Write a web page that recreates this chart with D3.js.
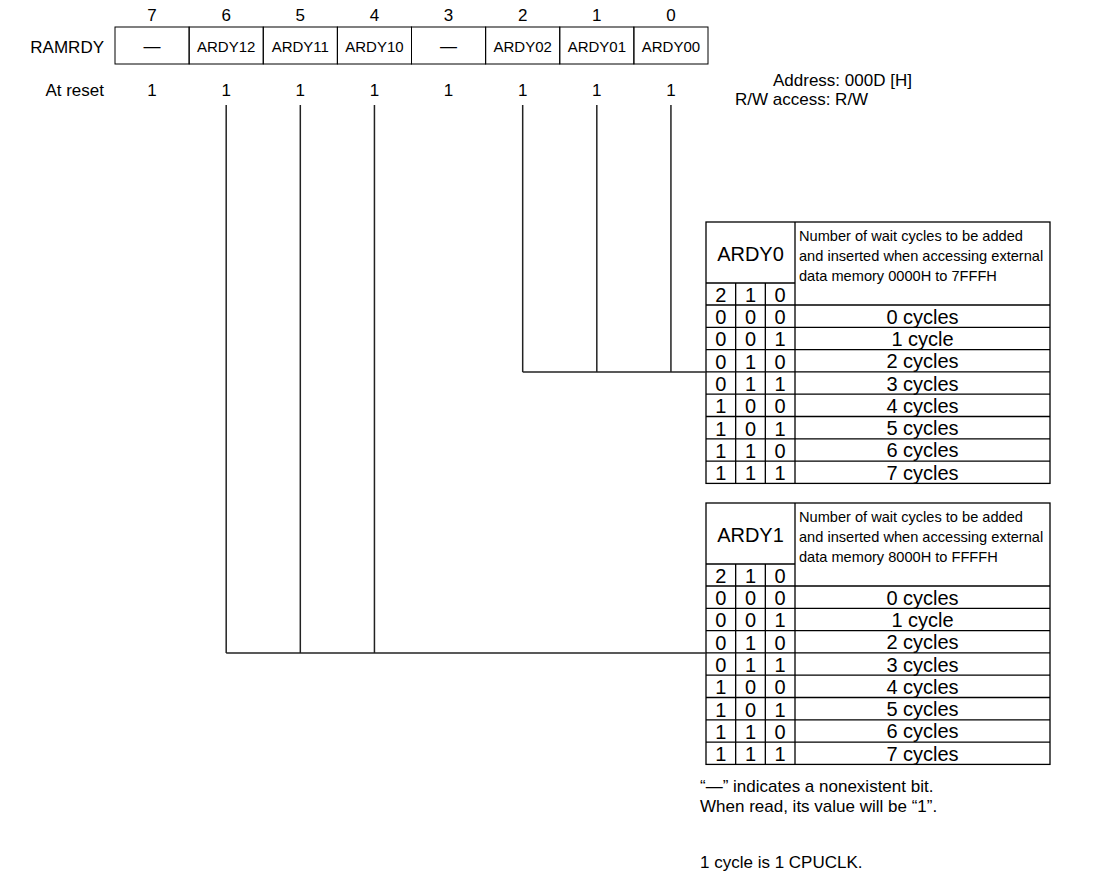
<!DOCTYPE html>
<html><head><meta charset="utf-8">
<script src="https://cdn.jsdelivr.net/npm/d3@7"></script>
<style>
body{margin:0;background:#fff}
text{font-family:Arial,"Liberation Sans",sans-serif;fill:#000}
</style>
</head><body>
<svg id="c" width="1095" height="877"></svg>
<script>
// ---- data ----
const bitNumbers = [7, 6, 5, 4, 3, 2, 1, 0];
const bitNames = ["—", "ARDY12", "ARDY11", "ARDY10", "—", "ARDY02", "ARDY01", "ARDY00"];
const resetValues = [1, 1, 1, 1, 1, 1, 1, 1];
const registerName = "RAMRDY";
const resetLabel = "At reset";
const addressLines = ["Address: 000D [H]", "R/W access: R/W"];
const tableTitles = ["ARDY0", "ARDY1"];
const tableDescriptions = [
  ["Number of wait cycles to be added", "and inserted when accessing external", "data memory 0000H to 7FFFH"],
  ["Number of wait cycles to be added", "and inserted when accessing external", "data memory 8000H to FFFFH"]
];
const tableSourceBits = [[2, 1, 0], [6, 5, 4]];
const codeBitLabels = ["2", "1", "0"];
const bitCodes = ["000", "001", "010", "011", "100", "101", "110", "111"];
const cycleLabels = ["0 cycles", "1 cycle", "2 cycles", "3 cycles", "4 cycles", "5 cycles", "6 cycles", "7 cycles"];
const connectRowIndex = 3; // connector enters between rows "2 cycles" and "3 cycles"
const notes = ["\u201C\u2014\u201D indicates a nonexistent bit.", "When read, its value will be \u201C1\u201D.", "1 cycle is 1 CPUCLK."];

// ---- layout ----
const svg = d3.select("#c");
const reg = {x0: 115, x1: 708, y0: 27, y1: 64};
const xBit = d3.scaleBand().domain(bitNumbers).range([reg.x0, reg.x1]);
const cx = b => xBit(b) + xBit.bandwidth() / 2;

// bit numbers
svg.selectAll("text.bitnum").data(bitNumbers).join("text").attr("class", "bitnum")
  .attr("x", d => cx(d)).attr("y", 15).attr("text-anchor", "middle").attr("dominant-baseline", "central")
  .attr("font-size", 17).text(d => d);

// register box cells
svg.selectAll("rect.cell").data(bitNumbers).join("rect").attr("class", "cell")
  .attr("x", d => xBit(d)).attr("y", reg.y0).attr("width", xBit.bandwidth()).attr("height", reg.y1 - reg.y0)
  .attr("fill", "none").attr("stroke", "#000").attr("stroke-width", 1);
svg.selectAll("text.name").data(bitNumbers).join("text").attr("class", "name")
  .attr("x", d => cx(d)).attr("y", (reg.y0 + reg.y1) / 2 + 1).attr("text-anchor", "middle").attr("dominant-baseline", "central")
  .attr("font-size", (d, i) => bitNames[i] === "—" ? 17 : 15).text((d, i) => bitNames[i]);

svg.append("text").attr("x", 104).attr("y", (reg.y0 + reg.y1) / 2 + 2).attr("text-anchor", "end")
  .attr("dominant-baseline", "central").attr("font-size", 17).text(registerName);
svg.append("text").attr("x", 104).attr("y", 90).attr("text-anchor", "end")
  .attr("dominant-baseline", "central").attr("font-size", 17).text(resetLabel);
svg.selectAll("text.reset").data(bitNumbers).join("text").attr("class", "reset")
  .attr("x", d => cx(d)).attr("y", 90).attr("text-anchor", "middle").attr("dominant-baseline", "central")
  .attr("font-size", 17).text((d, i) => resetValues[i]);

svg.append("text").attr("x", 773).attr("y", 80).attr("dominant-baseline", "central").attr("font-size", 17).text(addressLines[0]);
svg.append("text").attr("x", 735).attr("y", 99).attr("dominant-baseline", "central").attr("font-size", 17).text(addressLines[1]);

// ---- tables ----
const tX = 706, tR = 1050;
const xCol = d3.scaleBand().domain(codeBitLabels).range([tX, tX + 89]);
const descX0 = tX + 89;
const tableTops = [222, 503];
const headerH = 61, bitRowH = 22, rowH = 22.3;

tableTops.forEach((top, t) => {
  const g = svg.append("g");
  const rowsTop = top + headerH + bitRowH;
  const yRow = d3.scaleBand().domain(d3.range(cycleLabels.length)).range([rowsTop, rowsTop + rowH * cycleLabels.length]);
  const bottom = rowsTop + rowH * cycleLabels.length;
  const line = (x1, y1, x2, y2) => g.append("line").attr("x1", x1).attr("y1", y1).attr("x2", x2).attr("y2", y2)
      .attr("stroke", "#000").attr("stroke-width", 1.3);
  g.append("rect").attr("x", tX).attr("y", top).attr("width", tR - tX).attr("height", bottom - top)
    .attr("fill", "none").attr("stroke", "#000").attr("stroke-width", 1.3);
  line(descX0, top, descX0, bottom);
  line(tX, top + headerH, descX0, top + headerH);
  codeBitLabels.slice(1).forEach(c => line(xCol(c), top + headerH, xCol(c), bottom));
  d3.range(cycleLabels.length).forEach(i => line(tX, yRow(i), tR, yRow(i)));

  g.append("text").attr("x", tX + 44.5).attr("y", top + headerH / 2 + 1).attr("text-anchor", "middle")
    .attr("dominant-baseline", "central").attr("font-size", 20).text(tableTitles[t]);
  tableDescriptions[t].forEach((s, k) => {
    g.append("text").attr("x", descX0 + 4).attr("y", top + 14 + k * 20).attr("dominant-baseline", "central")
      .attr("font-size", 14.6).text(s);
  });
  codeBitLabels.forEach(c => g.append("text").attr("x", xCol(c) + xCol.bandwidth() / 2).attr("y", top + headerH + bitRowH / 2 + 1)
    .attr("text-anchor", "middle").attr("dominant-baseline", "central").attr("font-size", 20).text(c));
  bitCodes.forEach((code, i) => {
    code.split("").forEach((ch, j) => g.append("text").attr("x", xCol(codeBitLabels[j]) + xCol.bandwidth() / 2)
      .attr("y", yRow(i) + rowH / 2 + 1).attr("text-anchor", "middle").attr("dominant-baseline", "central")
      .attr("font-size", 20).text(ch));
    g.append("text").attr("x", (descX0 + tR) / 2).attr("y", yRow(i) + rowH / 2 + 0.5).attr("text-anchor", "middle")
      .attr("dominant-baseline", "central").attr("font-size", 20).text(cycleLabels[i]);
  });

  const yc = yRow(connectRowIndex);
  const bits = tableSourceBits[t];
  bits.forEach(b => svg.append("line").attr("x1", cx(b)).attr("y1", 105).attr("x2", cx(b)).attr("y2", yc)
    .attr("stroke", "#222").attr("stroke-width", 1.5));
  svg.append("line").attr("x1", cx(bits[0])).attr("y1", yc).attr("x2", tX).attr("y2", yc)
    .attr("stroke", "#222").attr("stroke-width", 1.5);
});

// notes
svg.append("text").attr("x", 700).attr("y", 786).attr("dominant-baseline", "central").attr("font-size", 17).text(notes[0]);
svg.append("text").attr("x", 700).attr("y", 806).attr("dominant-baseline", "central").attr("font-size", 17).text(notes[1]);
svg.append("text").attr("x", 700).attr("y", 862).attr("dominant-baseline", "central").attr("font-size", 17).text(notes[2]);
</script>
</body></html>
